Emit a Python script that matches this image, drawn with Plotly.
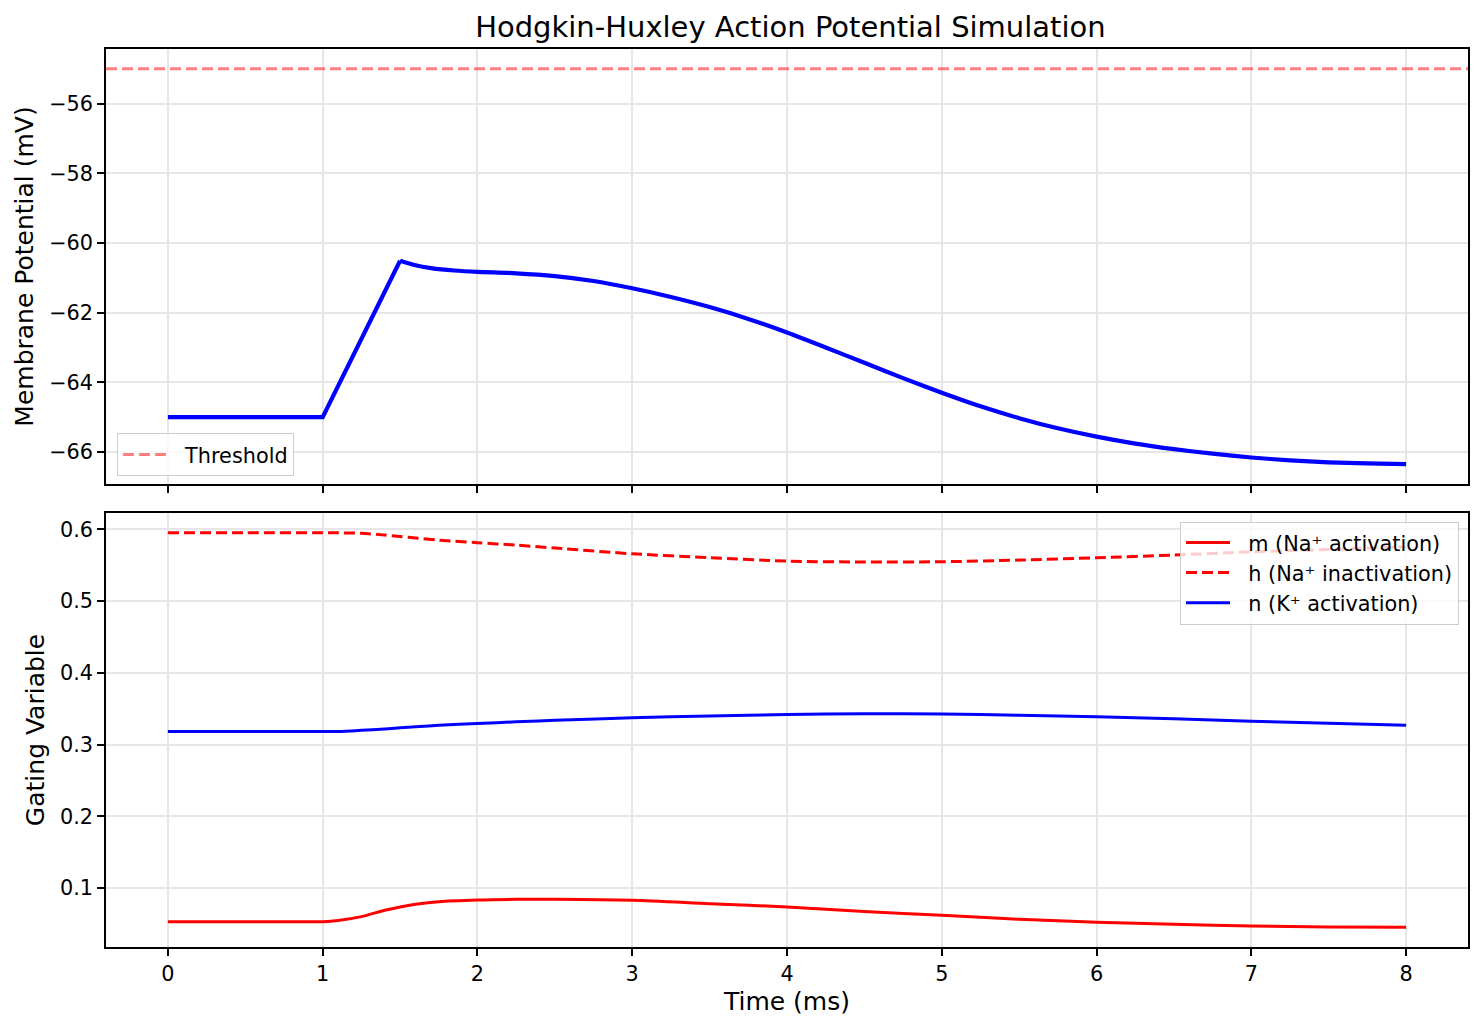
import plotly.graph_objects as go
from plotly.subplots import make_subplots

# membrane potential trace (ms, mV)
t_v = [0, 0.5, 1.0, 1.5, 1.6, 1.7, 1.85, 2.0, 2.25, 2.5, 2.75, 3.0, 3.25, 3.5, 3.75, 4.0,
       4.25, 4.5, 4.75, 5.0, 5.25, 5.5, 5.75, 6.0, 6.25, 6.5, 6.75, 7.0, 7.25, 7.5, 7.75, 8.0]
v_mem = [-65, -65, -65, -60.51, -60.64, -60.72, -60.79, -60.83, -60.87, -60.95, -61.09, -61.30,
         -61.55, -61.84, -62.18, -62.57, -63.0, -63.44, -63.88, -64.30, -64.69, -65.03, -65.32,
         -65.56, -65.76, -65.92, -66.05, -66.16, -66.24, -66.30, -66.33, -66.35]
threshold = -55
i_peak = 3  # index of the spike peak (end of the stimulus ramp)

# gating variables
t_gate = [0, 0.5, 1.0, 1.1, 1.25, 1.4, 1.5, 1.6, 1.75, 2.0, 2.25, 2.5, 3.0, 3.5, 4.0, 4.5,
          5.0, 5.5, 6.0, 6.5, 7.0, 7.5, 8.0]
m_gate = [0.0534, 0.0534, 0.0534, 0.0550, 0.0604, 0.0692, 0.0739, 0.0776, 0.0813, 0.0836, 0.0845,
          0.0846, 0.0832, 0.0785, 0.074, 0.0674, 0.0623, 0.0567, 0.0526, 0.0498, 0.0474, 0.046, 0.0456]
h_gate = [0.5953, 0.5953, 0.5953, 0.5952, 0.5945, 0.592, 0.590, 0.588, 0.585, 0.5814, 0.578,
          0.574, 0.566, 0.5605, 0.5558, 0.5545, 0.5549, 0.5572, 0.5605, 0.5642, 0.5688, 0.572, 0.5758]
n_gate = [0.3183, 0.3183, 0.3183, 0.3184, 0.320, 0.322, 0.3235, 0.325, 0.327, 0.3295, 0.3318,
          0.334, 0.3374, 0.340, 0.342, 0.343, 0.3426, 0.341, 0.3388, 0.336, 0.3328, 0.330, 0.3272]

FONT = "DejaVu Sans"
SP = "\u00a0\u00a0"  # a little gap between legend handle and text

fig = make_subplots(rows=2, cols=1, shared_xaxes=True)

# ramp part straight, decay part smooth
fig.add_trace(go.Scatter(x=t_v[:i_peak + 1], y=v_mem[:i_peak + 1], mode="lines",
                         line=dict(color="#0000ff", width=4.2), showlegend=False), row=1, col=1)
fig.add_trace(go.Scatter(x=t_v[i_peak:], y=v_mem[i_peak:], mode="lines",
                         line=dict(color="#0000ff", width=4.2, shape="spline", smoothing=0.6),
                         showlegend=False), row=1, col=1)
fig.add_shape(type="line", xref="x domain", x0=0, x1=1, yref="y", y0=threshold, y1=threshold,
              line=dict(color="rgba(255,0,0,0.5)", width=3, dash="11px,5px"),
              showlegend=True, name=SP + "Threshold", legend="legend")

fig.add_trace(go.Scatter(x=t_gate, y=m_gate, mode="lines", name=SP + "m (Na⁺ activation)",
                         line=dict(color="#ff0000", width=3, shape="spline", smoothing=0.8),
                         legend="legend2"), row=2, col=1)
fig.add_trace(go.Scatter(x=t_gate, y=h_gate, mode="lines", name=SP + "h (Na⁺ inactivation)",
                         line=dict(color="#ff0000", width=3, dash="11px,5px", shape="spline", smoothing=0.8),
                         legend="legend2"), row=2, col=1)
fig.add_trace(go.Scatter(x=t_gate, y=n_gate, mode="lines", name=SP + "n (K⁺ activation)",
                         line=dict(color="#0000ff", width=3, shape="spline", smoothing=0.8),
                         legend="legend2"), row=2, col=1)

axis_style = dict(showline=True, linecolor="black", linewidth=1.6, mirror=True,
                  ticks="outside", ticklen=7, tickwidth=1.6, tickcolor="black",
                  showgrid=True, gridcolor="#e6e6e6", gridwidth=1.6, zeroline=False,
                  tickfont=dict(family=FONT, size=20.8, color="black"))

fig.update_xaxes(**axis_style)
fig.update_yaxes(**axis_style)

fig.update_xaxes(range=[-0.4, 8.4], tick0=0, dtick=1, showticklabels=False, row=1, col=1)
fig.update_xaxes(range=[-0.4, 8.4], tick0=0, dtick=1, row=2, col=1,
                 title=dict(text="Time (ms)", font=dict(family=FONT, size=25, color="black"), standoff=8))
fig.update_yaxes(range=[-66.92, -54.43], tick0=-66, dtick=2, domain=[0.5156, 1], row=1, col=1,
                 title=dict(text="Membrane Potential (mV)", font=dict(family=FONT, size=25, color="black"), standoff=8))
fig.update_yaxes(range=[0.0181, 0.6228], tick0=0.1, dtick=0.1, domain=[0, 0.4833], row=2, col=1,
                 title=dict(text="Gating Variable", font=dict(family=FONT, size=25, color="black"), standoff=8))

legend_style = dict(bgcolor="rgba(255,255,255,0.8)", bordercolor="#cccccc", borderwidth=1,
                    font=dict(family=FONT, size=20.8, color="black"), itemwidth=44)

fig.update_layout(
    width=1474, height=1022,
    margin=dict(l=98, r=14, t=41, b=83),
    plot_bgcolor="white", paper_bgcolor="white",
    font=dict(family=FONT, color="black"),
    title=dict(text="Hodgkin-Huxley Action Potential Simulation", x=0.5308, xanchor="center",
               y=1 - 19 / 1022, yanchor="middle", font=dict(family=FONT, size=29, color="black")),
    legend=dict(x=0.008, xanchor="left", y=0.524, yanchor="bottom", **legend_style),
    legend2=dict(x=0.9934, xanchor="right", y=0.4738, yanchor="top", tracegroupgap=0, **legend_style),
)

fig.write_html("out.html")
